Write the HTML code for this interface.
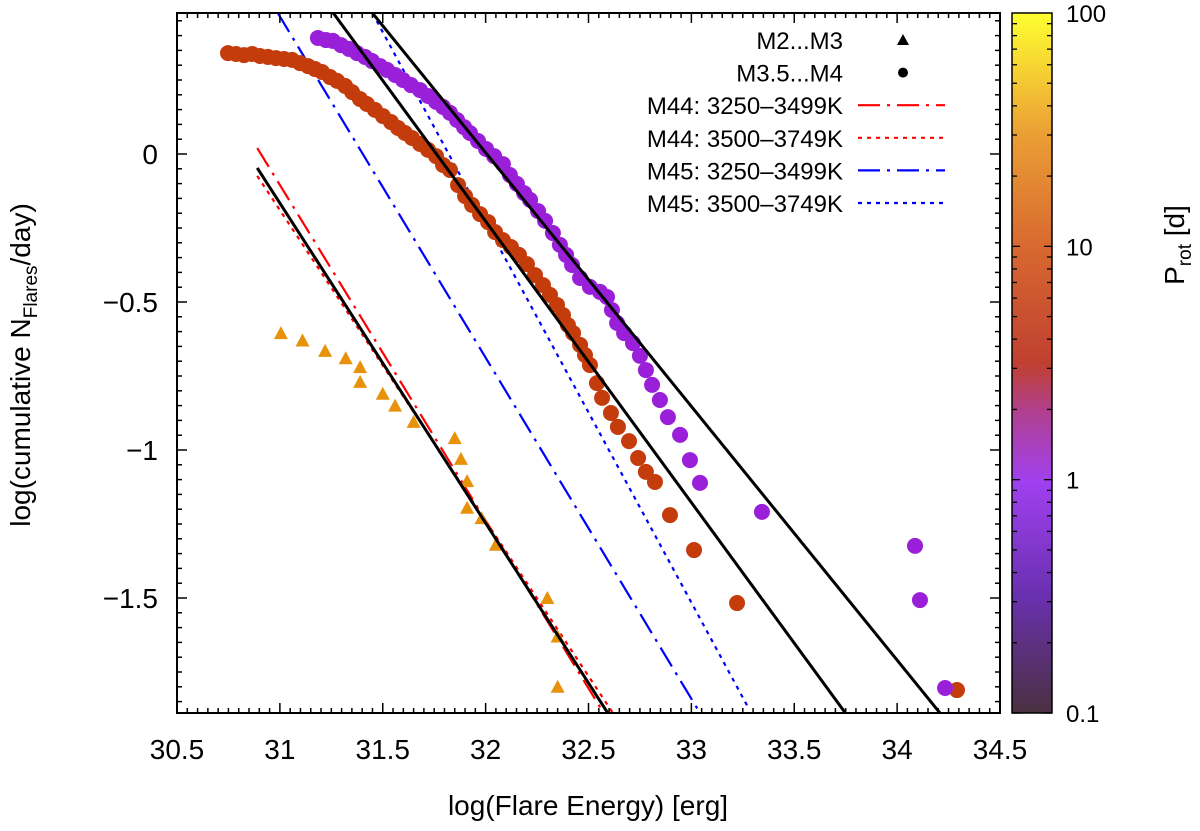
<!DOCTYPE html>
<html><head><meta charset="utf-8"><style>
body{margin:0;background:#fff}
svg{display:block;font-family:"Liberation Sans",sans-serif}
</style></head><body>
<svg id="chart" width="1200" height="831" viewBox="0 0 1200 831" xmlns="http://www.w3.org/2000/svg">
<defs>
<linearGradient id="cbg" x1="0" y1="1" x2="0" y2="0">
<stop offset="0" stop-color="#4a3040"/>
<stop offset="0.17" stop-color="#6a30b0"/>
<stop offset="0.33" stop-color="#a040f0"/>
<stop offset="0.43" stop-color="#b04090"/>
<stop offset="0.5" stop-color="#c04030"/>
<stop offset="0.67" stop-color="#d86a30"/>
<stop offset="0.83" stop-color="#eba035"/>
<stop offset="1" stop-color="#ffff30"/>
</linearGradient>
</defs>
<g id="plot"></g>
</svg>
<script>
const triX=[31.005,31.11,31.22,31.32,31.39,31.39,31.50,31.56,31.65,31.85,31.88,31.91,31.91,31.98,32.05,32.30,32.35,32.35];
const triY=[-0.605,-0.63,-0.665,-0.69,-0.72,-0.77,-0.81,-0.85,-0.905,-0.96,-1.03,-1.105,-1.195,-1.23,-1.32,-1.50,-1.63,-1.80];
const m44X=[30.748,30.787,30.826,30.865,30.903,30.942,30.981,31.020,31.059,31.098,31.137,31.171,31.205,31.244,31.278,31.317,31.351,31.389,31.423,31.462,31.501,31.540,31.574,31.608,31.642,31.681,31.720,31.759,31.793,31.827,31.866,31.900,31.934,31.973,32.012,32.046,32.084,32.123,32.162,32.201,32.240,32.279,32.313,32.347,32.376,32.400,32.425,32.459,32.483,32.507,32.541,32.566,32.609,32.643,32.697,32.741,32.779,32.823,32.896,33.013,33.222,34.291];
const m44Y=[0.341,0.338,0.334,0.338,0.331,0.328,0.324,0.321,0.318,0.307,0.297,0.287,0.277,0.260,0.247,0.230,0.209,0.186,0.169,0.149,0.128,0.108,0.088,0.071,0.054,0.034,0.014,-0.007,-0.037,-0.054,-0.105,-0.142,-0.172,-0.203,-0.230,-0.264,-0.291,-0.314,-0.341,-0.372,-0.409,-0.443,-0.476,-0.510,-0.544,-0.578,-0.605,-0.645,-0.679,-0.713,-0.774,-0.824,-0.875,-0.922,-0.970,-1.027,-1.074,-1.108,-1.220,-1.338,-1.517,-1.811];
const m45X=[31.185,31.224,31.258,31.297,31.336,31.375,31.414,31.448,31.487,31.521,31.560,31.598,31.637,31.681,31.720,31.759,31.793,31.827,31.861,31.895,31.924,31.963,32.002,32.041,32.084,32.118,32.152,32.187,32.216,32.255,32.289,32.327,32.361,32.391,32.420,32.459,32.507,32.556,32.590,32.614,32.639,32.673,32.716,32.750,32.779,32.809,32.847,32.886,32.945,32.993,33.042,33.343,34.087,34.111,34.233];
const m45Y=[0.392,0.385,0.382,0.368,0.355,0.341,0.328,0.314,0.297,0.284,0.267,0.250,0.233,0.216,0.196,0.176,0.159,0.139,0.115,0.091,0.071,0.044,0.017,-0.007,-0.034,-0.071,-0.101,-0.132,-0.155,-0.193,-0.226,-0.267,-0.307,-0.341,-0.375,-0.419,-0.449,-0.466,-0.483,-0.527,-0.571,-0.605,-0.639,-0.682,-0.730,-0.780,-0.831,-0.889,-0.949,-1.034,-1.111,-1.209,-1.324,-1.507,-1.804];
// fit lines: [x1,y1,x2,y2]
const fitLines=[[30.89,-0.047,32.595,-1.89],[31.26,0.476,33.75,-1.89],[31.45,0.476,34.21,-1.89]];
const m44DashDot=[30.89,0.02,32.575,-1.89];
const m44Dotted=[30.89,-0.074,32.62,-1.89];
const m45DashDot=[30.99,0.476,33.03,-1.875];
const m45Dotted=[31.45,0.476,33.28,-1.875];
const xTicks=[30.5,31,31.5,32,32.5,33,33.5,34,34.5];
const yTicks=[0,-0.5,-1,-1.5];
const cbTicks=[0.1,1,10,100];

const L=177,R=1000,T=13,B=713;
const X=v=>L+(v-30.5)*(R-L)/4;
const Y=v=>154-v*296;
const CBT=13,CBB=713;
const CY=p=>CBB-(Math.log10(p)+1)*(CBB-CBT)/3;
const g=document.getElementById('plot');
const NS='http://www.w3.org/2000/svg';
function mk(tag,attrs,parent){const e=document.createElementNS(NS,tag);for(const k in attrs)e.setAttribute(k,attrs[k]);(parent||g).appendChild(e);return e;}

const defs=document.querySelector('defs');
const cp=mk('clipPath',{id:'clip'},defs);mk('rect',{x:L,y:T,width:R-L,height:B-T},cp);
const data=mk('g',{'clip-path':'url(#clip)'});



function line(a,color,dash,name){const e=mk('line',{x1:X(a[0]),y1:Y(a[1]),x2:X(a[2]),y2:Y(a[3]),stroke:color,'stroke-width':2.2,'stroke-dasharray':dash||'none'},data);

}
line(m44DashDot,'#f00','22,7,3,7','m44-3250-fit');
line(m44Dotted,'#f00','4,5','m44-3500-fit');
line(m45DashDot,'#00f','22,7,3,7','m45-3250-fit');
line(m45Dotted,'#00f','4,5','m45-3500-fit');

m44X.forEach((x,i)=>{const e=mk('circle',{cx:X(x),cy:Y(m44Y[i]),r:8,fill:'#c43c0c'},data);

});
m45X.forEach((x,i)=>{const e=mk('circle',{cx:X(x),cy:Y(m45Y[i]),r:8,fill:'#9a1fd8'},data);

});
triX.forEach((x,i)=>{const cx=X(x),cy=Y(triY[i]);const e=mk('polygon',{points:`${cx},${cy-7} ${cx-7},${cy+6} ${cx+7},${cy+6}`,fill:'#e8920c'},data);

});
fitLines.forEach((a,i)=>{const e=mk('line',{x1:X(a[0]),y1:Y(a[1]),x2:X(a[2]),y2:Y(a[3]),stroke:'#000','stroke-width':3},data);

});

const fr=mk('rect',{x:L,y:T,width:R-L,height:B-T,fill:'none',stroke:'#000','stroke-width':2});


for(let k=0;k<=80;k++){const v=30.5+k*0.05;const x=X(v);const len=(k%10===0)?10:5;
mk('line',{x1:x,y1:B,x2:x,y2:B-len,stroke:'#000','stroke-width':1.5});
mk('line',{x1:x,y1:T,x2:x,y2:T+len,stroke:'#000','stroke-width':1.5});}
xTicks.forEach(v=>{const t=mk('text',{x:X(v),y:759,'font-size':28,'text-anchor':'middle'});t.textContent=v;

});
for(let v=0.45;v>=-1.9;v-=0.05){const vv=Math.round(v*100)/100;const y=Y(vv);const maj=Math.abs(vv*2-Math.round(vv*2))<1e-6;const len=maj?10:5;
mk('line',{x1:L,y1:y,x2:L+len,y2:y,stroke:'#000','stroke-width':1.5});
mk('line',{x1:R,y1:y,x2:R-len,y2:y,stroke:'#000','stroke-width':1.5});}
yTicks.forEach(v=>{const t=mk('text',{x:158,y:Y(v)+10,'font-size':28,'text-anchor':'end'});t.textContent=v===0?'0':'\u2212'+Math.abs(v);

});
const xt=mk('text',{x:588,y:815,'font-size':28,'text-anchor':'middle'});xt.textContent='log(Flare Energy) [erg]';


const yt=mk('text',{x:0,y:0,'font-size':28,'text-anchor':'middle',transform:'translate(30,365) rotate(-90)'});
yt.innerHTML='log(cumulative N<tspan font-size="19" dy="7">Flares</tspan><tspan dy="-7">/day)</tspan>';



const lg=mk('g',{});


const labels=['M2...M3','M3.5...M4','M44: 3250\u20133499K','M44: 3500\u20133749K','M45: 3250\u20133499K','M45: 3500\u20133749K'];
labels.forEach((s,i)=>{const y=40+i*32.6;const t=mk('text',{x:843,y:y+9,'font-size':24,'text-anchor':'end'},lg);t.textContent=s;


if(i===0)mk('polygon',{points:`903,${y-6} 897,${y+5} 909,${y+5}`,fill:'#000'},lg);
else if(i===1)mk('circle',{cx:903,cy:y,r:5,fill:'#000'},lg);
else{const c=i<4?'#f00':'#00f';const d=(i%2===0)?'22,7,3,7':'4,5';mk('line',{x1:858,y1:y,x2:945,y2:y,stroke:c,'stroke-width':2.2,'stroke-dasharray':d},lg);}});

const cb=mk('rect',{x:1012,y:CBT,width:40,height:CBB-CBT,fill:'url(#cbg)',stroke:'#000','stroke-width':1.5});


for(let d=0;d<3;d++)for(let m=1;m<=9;m++){const p=Math.pow(10,d-1)*m;const y=CY(p);const len=m===1?8:5;
mk('line',{x1:1012,y1:y,x2:1012+len,y2:y,stroke:'#000','stroke-width':1.3});
mk('line',{x1:1052,y1:y,x2:1052-len,y2:y,stroke:'#000','stroke-width':1.3});}
cbTicks.forEach(p=>{const t=mk('text',{x:1066,y:CY(p)+9,'font-size':24});t.textContent=p;

});
const ct=mk('text',{x:0,y:0,'font-size':28,'text-anchor':'middle',transform:'translate(1184,245) rotate(-90)'});
ct.innerHTML='P<tspan font-size="19" dy="7">rot</tspan><tspan dy="-7"> [d]</tspan>';


</script>
</body></html>
